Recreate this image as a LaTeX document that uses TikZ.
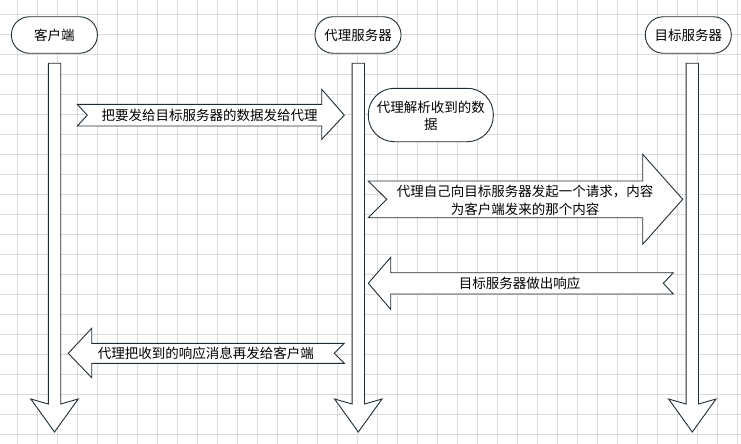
\documentclass[tikz,border=0pt]{standalone}
\usepackage{fontspec}
\newfontfamily\cjk{Noto Sans CJK SC}
\definecolor{ink}{HTML}{1E2E36}
\definecolor{gridline}{HTML}{DADADA}
\begin{document}
\begin{tikzpicture}[x=1pt,y=-1pt,
  shapeline/.style={draw=ink,line width=0.9pt,fill=white,line join=miter},
  actor/.style={shapeline,rounded corners=18pt,minimum width=86pt,minimum height=36.5pt,
    font=\cjk\fontsize{13.5}{16}\selectfont,inner sep=0pt},
  msg/.style={font=\cjk\fontsize{13.5}{17.3}\selectfont,align=center,inner sep=0pt,text=black}]
% canvas and background grid
\useasboundingbox (0,0) rectangle (741,444);
\fill[white] (0,0) rectangle (741,444);
\foreach \gx in {17,37,...,737} \draw[gridline,line width=0.6pt] (\gx,0) -- (\gx,444);
\foreach \gy in {14.5,34.5,...,434.5} \draw[gridline,line width=0.6pt] (0,\gy) -- (741,\gy);

% lifelines: long downward block arrows
\foreach \c/\nm in {54.5/clientline,358.3/proxyline,692.3/targetline}{
  \draw[shapeline] (\c-6.2,63.3) -- (\c+6.2,63.3) -- (\c+6.2,404) -- (\c+23.7,399)
    -- (\c,432) -- (\c-23.7,399) -- (\c-6.2,404) -- cycle;
  \coordinate (\nm) at (\c,63.3);
}

% participants
\node[actor] (client) at (54.4,35) {客户端};
\node[actor] (proxy)  at (358,35) {代理服务器};
\node[actor] (target) at (688.3,35) {目标服务器};

% note on the proxy
\node[shapeline,rounded corners=26pt,minimum width=125pt,minimum height=53.4pt,inner sep=0pt]
  (parse) at (430.8,115) {};
\node[msg] (parsetext) at (430.8,115.5) {代理解析收到的数\\据};

% message 1: client -> proxy
\draw[shapeline] (77.3,104.3) -- (321.7,104.3) -- (321.7,89.3) -- (344.3,115.2)
  -- (321.7,139.3) -- (321.7,126) -- (77.3,126) -- (87.3,115.2) -- cycle;
\node[msg] (m1) at (209.5,115.2) {把要发给目标服务器的数据发给代理};

% message 2: proxy -> target
\draw[shapeline] (368.3,181) -- (642.7,181) -- (642.7,154.3) -- (682.7,199.3)
  -- (642.7,244.3) -- (642.7,217.7) -- (368.3,217.7) -- (386.7,199.3) -- cycle;
\node[msg] (m2) at (525,200.3) {代理自己向目标服务器发起一个请求，内容\\为客户端发来的那个内容};

% message 3: target -> proxy
\draw[shapeline] (673.3,272.7) -- (390.7,272.7) -- (390.7,257.3) -- (368.3,283.3)
  -- (390.7,309.3) -- (390.7,294) -- (673.3,294) -- (663.3,283.3) -- cycle;
\node[msg] (m3) at (519.7,283.3) {目标服务器做出响应};

% message 4: proxy -> client
\draw[shapeline] (344.3,343.3) -- (91.7,343.3) -- (91.7,328.3) -- (68.3,353.3)
  -- (91.7,377.7) -- (91.7,363.3) -- (344.3,363.3) -- (334.3,353.3) -- cycle;
\node[msg] (m4) at (205.8,353.3) {代理把收到的响应消息再发给客户端};
\end{tikzpicture}
\end{document}
